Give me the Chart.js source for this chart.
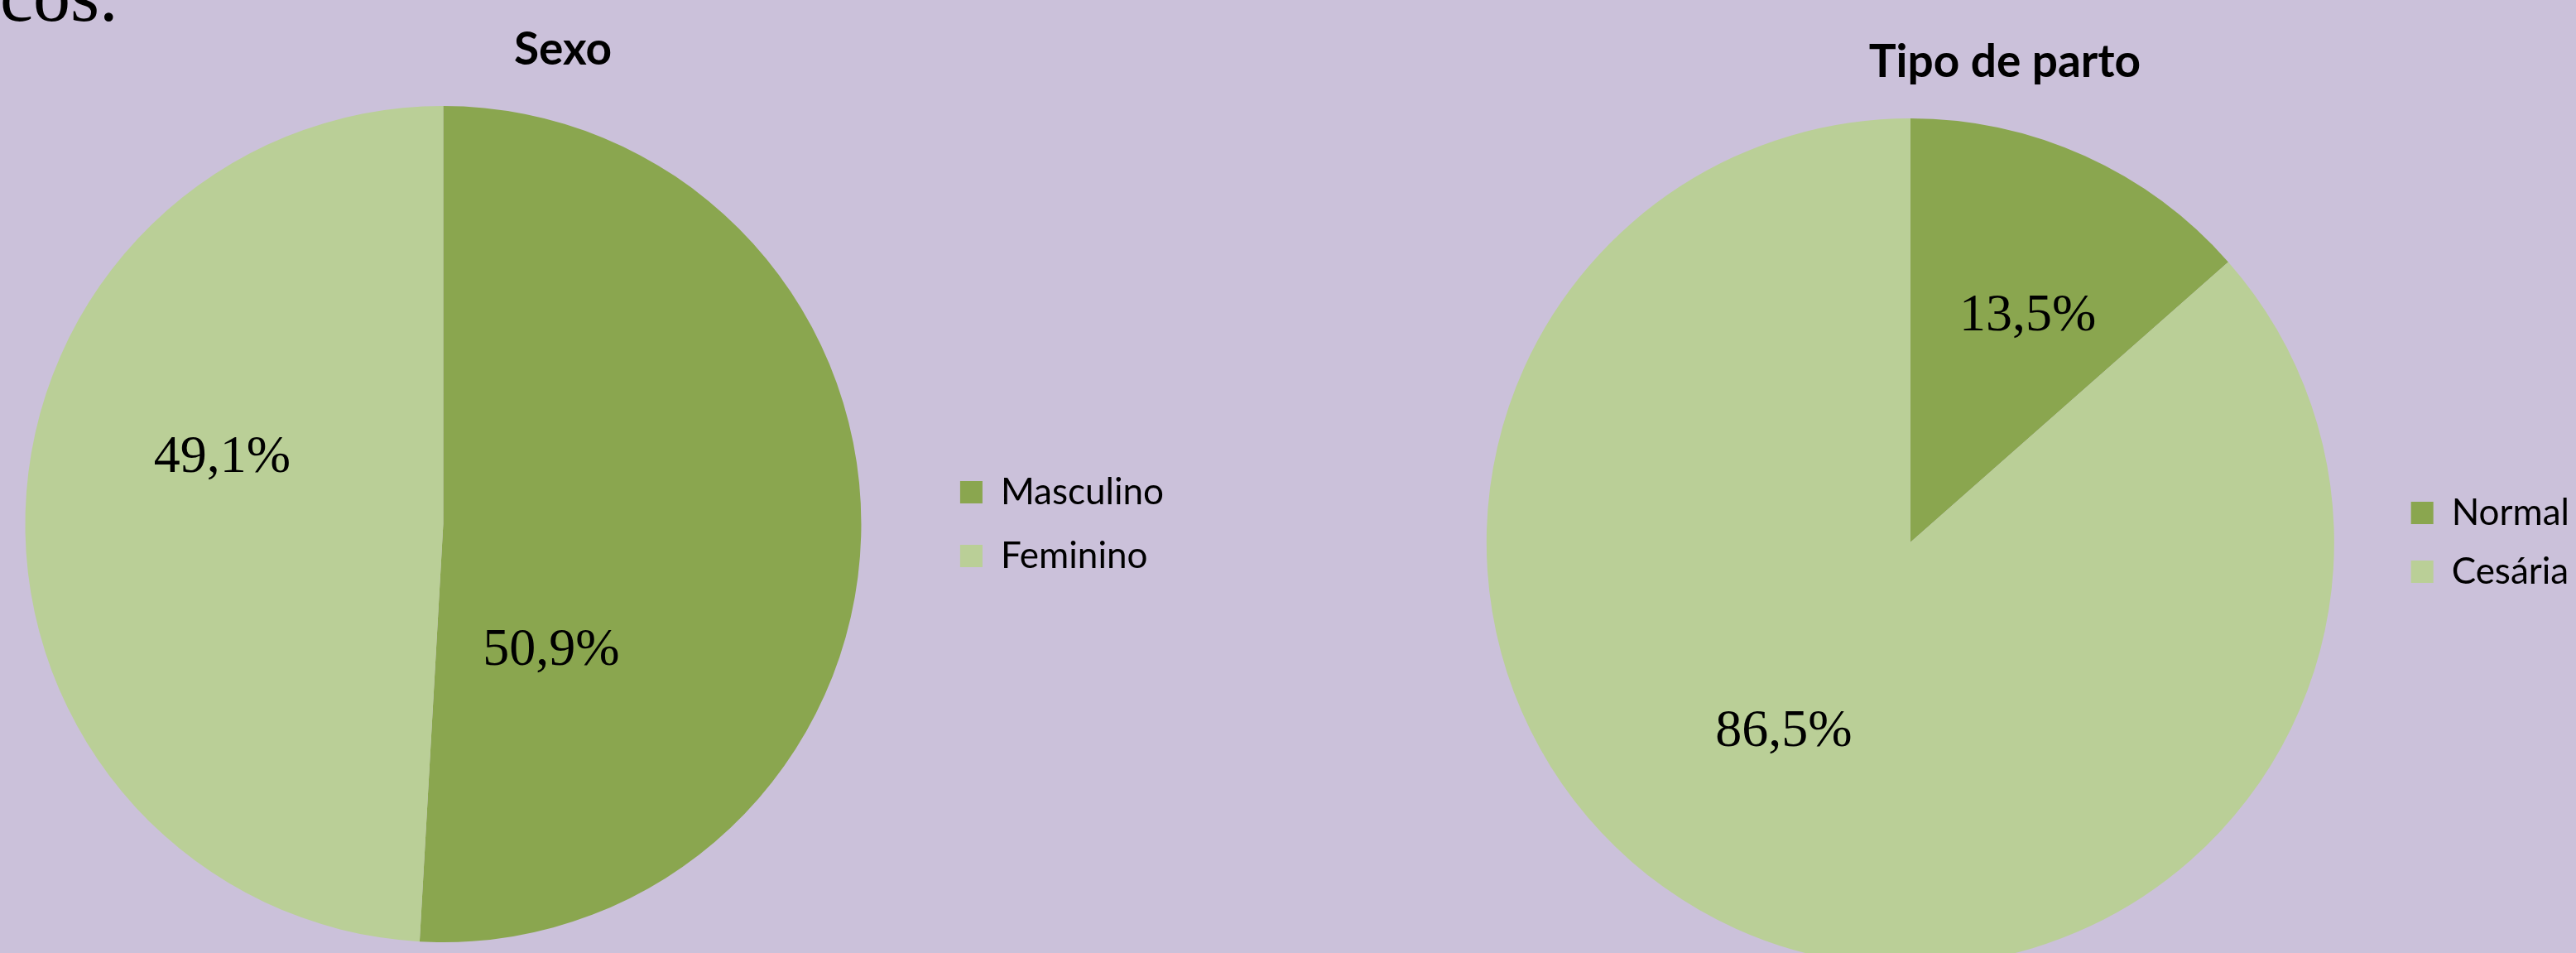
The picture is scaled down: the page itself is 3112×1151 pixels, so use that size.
<!DOCTYPE html>
<html>
<head>
<meta charset="utf-8">
<script src="https://cdn.jsdelivr.net/npm/chart.js@4.4.1/dist/chart.umd.min.js"></script>
<style>
  html, body { margin: 0; padding: 0; }
  body { width: 3112px; height: 1151px; overflow: hidden; background: #cbc1da; position: relative; }
  .box { position: absolute; }
  #intro { position: absolute; left: 0; top: -50px; font: 90px/1 "Liberation Serif", "Times New Roman", serif; color: #000; white-space: nowrap; }
</style>
</head>
<body>
<div id="intro">cos.</div>
<div class="box" style="left:-56px; top:0; width:1472px; height:1138px;"><canvas id="sexo"></canvas></div>
<div class="box" style="left:1730px; top:0; width:1384px; height:1167px;"><canvas id="parto"></canvas></div>
<script>
// data
const sexoLabels = ['Masculino', 'Feminino'];
const sexoValues = [50.9, 49.1];
const partoLabels = ['Normal', 'Cesária'];
const partoValues = [13.5, 86.5];

const darkGreen = '#8aa64f';
const lightGreen = '#bacf97';

// where Excel put the value labels: [angle in degrees, fraction of radius]
const sexoLabelPos = [[48.5, 0.39], [197.7, 0.555]];
const partoLabelPos = [[-63, 0.61], [124.3, 0.53]];

const pctLabels = {
  id: 'pctLabels',
  afterDatasetsDraw(chart, args, opts) {
    const ctx = chart.ctx;
    const meta = chart.getDatasetMeta(0);
    const values = chart.data.datasets[0].data;
    ctx.save();
    ctx.font = '64px "Liberation Serif", "Times New Roman", serif';
    ctx.fillStyle = '#000';
    ctx.textAlign = 'center';
    ctx.textBaseline = 'alphabetic';
    meta.data.forEach(function (arc, i) {
      const p = opts.pos[i];
      const a = p[0] * Math.PI / 180;
      const r = arc.outerRadius * p[1];
      const txt = values[i].toFixed(1).replace('.', ',') + '%';
      // baseline sits ~0.34em under the visual middle of the digits
      ctx.fillText(txt, arc.x + Math.cos(a) * r, arc.y + Math.sin(a) * r + 22);
    });
    ctx.restore();
  }
};

function makePie(id, title, labels, values, labelPos, titlePad, legendPad) {
  let ctx = document.getElementById(id).getContext('2d');
  return new Chart(ctx, {
    type: 'pie',
    data: {
      labels: labels,
      datasets: [{
        data: values,
        backgroundColor: [darkGreen, lightGreen],
        borderWidth: 0
      }]
    },
    options: {
      responsive: true,
      maintainAspectRatio: false,
      animation: false,
      layout: { padding: 0 },
      plugins: {
        title: {
          display: true,
          text: title,
          color: '#000',
          font: { family: 'Lato', weight: 'bold', size: 55, lineHeight: 1.2 },
          padding: titlePad
        },
        legend: {
          position: 'right',
          fullSize: false,
          labels: {
            color: '#000',
            boxWidth: 27,
            boxHeight: 27,
            padding: legendPad,
            font: { family: 'Lato', size: 44 }
          }
        },
        tooltip: { enabled: false },
        pctLabels: { pos: labelPos }
      }
    },
    plugins: [pctLabels]
  });
}

makePie('sexo', 'Sexo', sexoLabels, sexoValues, sexoLabelPos, { top: 27, bottom: 35 }, 33);
makePie('parto', 'Tipo de parto', partoLabels, partoValues, partoLabelPos, { top: 42, bottom: 35 }, 27);
</script>
</body>
</html>
